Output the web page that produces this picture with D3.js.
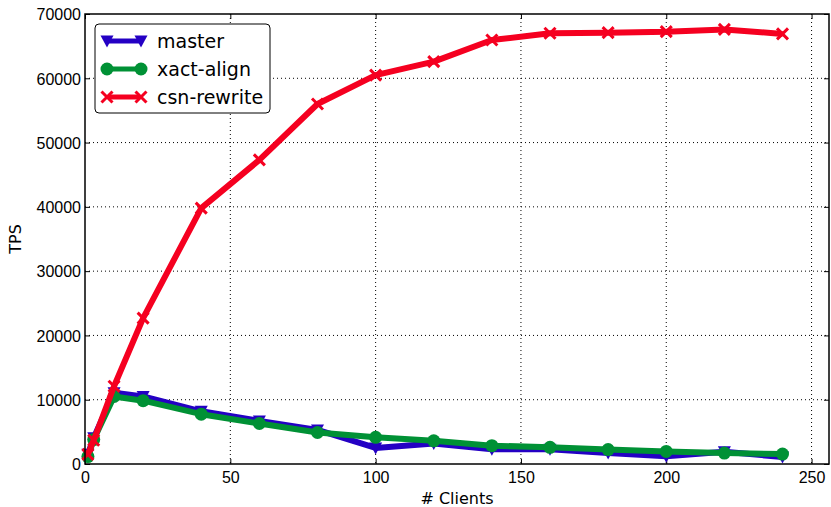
<!DOCTYPE html>
<html>
<head>
<meta charset="utf-8">
<script src="https://cdnjs.cloudflare.com/ajax/libs/d3/7.8.5/d3.min.js"></script>
<style>
  body { margin: 0; background: #fff; }
  svg { display: block; font-family: "DejaVu Sans", sans-serif; }
</style>
</head>
<body>
<div id="chart-area"></div>
<script>
var clients = [1, 3, 10, 20, 40, 60, 80, 100, 120, 140, 160, 180, 200, 220, 240];
var master = [1500, 4100, 11100, 10500, 8200, 6700, 5300, 2500, 3200, 2300, 2300, 1700, 1200, 1900, 1100];
var xactAlign = [1150, 3800, 10500, 9850, 7750, 6300, 4900, 4150, 3600, 2850, 2600, 2250, 1950, 1700, 1550];
var csnRewrite = [1500, 3700, 12100, 22700, 39800, 47300, 56000, 60500, 62600, 65950, 67000, 67100, 67250, 67600, 66900];
var xTicks = [0, 50, 100, 150, 200, 250];
var yTicks = [0, 10000, 20000, 30000, 40000, 50000, 60000, 70000];

var series = [
  { name: "master", values: master, color: "#2400c4", marker: "tri" },
  { name: "xact-align", values: xactAlign, color: "#009135", marker: "circle" },
  { name: "csn-rewrite", values: csnRewrite, color: "#f50020", marker: "x" }
];

var margin = { left: 85, right: 2, top: 14, bottom: 43 };
var width = 831 - margin.left - margin.right;
var height = 507 - margin.top - margin.bottom;

var xScale = d3.scaleLinear().domain([0, 256]).range([0, width]);
var yScale = d3.scaleLinear().domain([0, 70000]).range([height, 0]);

var svg = d3.select("#chart-area")
  .append("svg")
  .attr("width", 831)
  .attr("height", 507)
  .append("g")
  .attr("transform", "translate(" + margin.left + "," + margin.top + ")");

// grid
svg.append("g")
  .selectAll("line")
  .data(xTicks.slice(1))
  .enter().append("line")
  .attr("x1", (d) => xScale(d)).attr("x2", (d) => xScale(d))
  .attr("y1", 0).attr("y2", height)
  .attr("stroke", "#000").attr("stroke-width", 1)
  .attr("stroke-dasharray", "1,3");

svg.append("g")
  .selectAll("line")
  .data(yTicks.slice(1, -1))
  .enter().append("line")
  .attr("x1", 0).attr("x2", width)
  .attr("y1", (d) => yScale(d)).attr("y2", (d) => yScale(d))
  .attr("stroke", "#000").attr("stroke-width", 1)
  .attr("stroke-dasharray", "1,3");

// axes, ticks pointing inward on all sides
var xAxis = svg.append("g")
  .attr("transform", "translate(0," + height + ")")
  .call(d3.axisBottom(xScale).tickValues(xTicks).tickSizeInner(-5).tickSizeOuter(0).tickPadding(8).tickFormat(d3.format("d")));

var yAxis = svg.append("g")
  .call(d3.axisLeft(yScale).tickValues(yTicks).tickSizeInner(-5).tickSizeOuter(0).tickPadding(4).tickFormat(d3.format("d")));

svg.append("g")
  .call(d3.axisTop(xScale).tickValues(xTicks).tickSizeInner(-5).tickSizeOuter(0).tickFormat(""));

svg.append("g")
  .attr("transform", "translate(" + width + ",0)")
  .call(d3.axisRight(yScale).tickValues(yTicks).tickSizeInner(-5).tickSizeOuter(0).tickFormat(""));

svg.selectAll(".domain").remove();
svg.selectAll(".tick line").attr("stroke", "#000");
xAxis.selectAll("text").style("font-size", "16px").attr("fill", "#000");
yAxis.selectAll("text").style("font-size", "16px").attr("fill", "#000").attr("dy", "0.36em");

// lines and markers
var line = d3.line()
  .x((d) => xScale(d[0]))
  .y((d) => yScale(d[1]));

function drawMarker(g, type, color) {
  if (type === "tri") {
    g.append("path").attr("d", "M-6.5,-5.5L6.5,-5.5L0,6.5Z").attr("fill", color);
  } else if (type === "circle") {
    g.append("circle").attr("r", 6.5).attr("fill", color);
  } else {
    g.append("path").attr("d", "M-5.5,-5.5L5.5,5.5M-5.5,5.5L5.5,-5.5")
      .attr("stroke", color).attr("stroke-width", 3).attr("fill", "none");
  }
}

series.forEach((s) => {
  var pts = clients.map((c, i) => [c, s.values[i]]);
  svg.append("path")
    .datum(pts)
    .attr("d", line)
    .attr("fill", "none")
    .attr("stroke", s.color)
    .attr("stroke-width", 6)
    .attr("stroke-linejoin", "round");
  pts.forEach((p) => {
    var g = svg.append("g")
      .attr("transform", "translate(" + xScale(p[0]) + "," + yScale(p[1]) + ")");
    drawMarker(g, s.marker, s.color);
  });
});

// frame
svg.append("rect")
  .attr("width", width).attr("height", height)
  .attr("fill", "none").attr("stroke", "#000").attr("stroke-width", 1.5);

// axis labels
svg.append("text")
  .attr("x", xScale(128)).attr("y", height + 40)
  .attr("text-anchor", "middle")
  .style("font-size", "16px")
  .text("# Clients");

svg.append("text")
  .attr("transform", "rotate(-90)")
  .attr("x", -height / 2).attr("y", -64)
  .attr("text-anchor", "middle")
  .style("font-size", "16px")
  .text("TPS");

// legend
var legend = svg.append("g").attr("transform", "translate(10,10)");
legend.append("rect")
  .attr("width", 175).attr("height", 89).attr("rx", 4)
  .attr("fill", "#fff").attr("stroke", "#000").attr("stroke-width", 1);

series.forEach((s, i) => {
  var yy = 17 + i * 28;
  legend.append("line")
    .attr("x1", 14).attr("x2", 44).attr("y1", yy).attr("y2", yy)
    .attr("stroke", s.color).attr("stroke-width", 5);
  [12, 46].forEach((xx) => {
    var g = legend.append("g").attr("transform", "translate(" + xx + "," + yy + ")");
    drawMarker(g, s.marker, s.color);
  });
  legend.append("text")
    .attr("x", 62).attr("y", yy).attr("dy", "0.35em")
    .style("font-size", "19px")
    .text(s.name);
});
</script>
</body>
</html>
